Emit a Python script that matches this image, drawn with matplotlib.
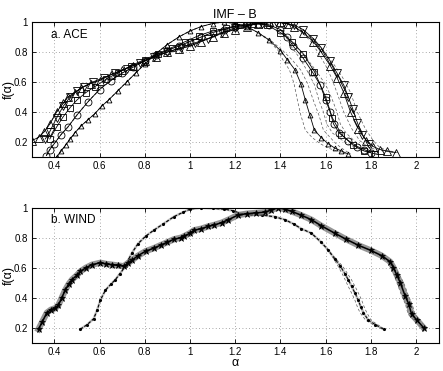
import numpy as np
import matplotlib
matplotlib.use("Agg")
import matplotlib.pyplot as plt

plt.rcParams['font.family'] = ['Liberation Sans', 'DejaVu Sans']

# ---------------- panel a: ACE ----------------
A_alpha = [0.30, 0.33, 0.356, 0.38, 0.41, 0.44, 0.46, 0.49, 0.52, 0.56, 0.60, 0.65, 0.70, 0.75, 0.80,
           0.85, 0.90, 0.95, 1.00, 1.05, 1.10, 1.15, 1.20, 1.25, 1.30, 1.35, 1.40, 1.43, 1.46, 1.50,
           1.545, 1.58, 1.62, 1.65, 1.68, 1.71, 1.745, 1.78, 1.81, 1.84, 1.87, 1.91]
A_f = [0.21, 0.23, 0.27, 0.32, 0.40, 0.46, 0.50, 0.53, 0.56, 0.59, 0.61, 0.65, 0.68, 0.71, 0.74,
       0.77, 0.80, 0.82, 0.84, 0.87, 0.90, 0.93, 0.95, 0.97, 0.99, 1.00, 1.00, 0.99, 0.97, 0.93,
       0.87, 0.80, 0.71, 0.63, 0.53, 0.40, 0.29, 0.21, 0.17, 0.15, 0.14, 0.13]
A_err = [0, 0, 0, 0, 0, 0, 0, 0, 0, 0, 0, 0, 0, 0, 0,
         0, 0, 0, 0, 0, 0, 0, 0, 0, 0, 0, 0, 0, 0, 0.005,
         0.01, 0.015, 0.02, 0.025, 0.03, 0.03, 0.03, 0.03, 0.025, 0.02, 0.015, 0.01]

V_alpha = [0.36, 0.38, 0.41, 0.44, 0.47, 0.50, 0.53, 0.57, 0.62, 0.67, 0.72, 0.78, 0.84, 0.90, 0.96,
           1.02, 1.08, 1.14, 1.20, 1.26, 1.32, 1.38, 1.42, 1.46, 1.50, 1.545, 1.58, 1.62, 1.65, 1.68,
           1.70, 1.72, 1.74, 1.76, 1.79]
V_f = [0.22, 0.27, 0.36, 0.44, 0.50, 0.54, 0.57, 0.60, 0.63, 0.66, 0.69, 0.73, 0.77, 0.80, 0.83,
       0.86, 0.89, 0.93, 0.96, 0.98, 0.99, 1.00, 0.99, 0.98, 0.95, 0.89, 0.83, 0.74, 0.66, 0.58,
       0.50, 0.42, 0.33, 0.25, 0.19]

C_alpha = [0.365, 0.38, 0.40, 0.43, 0.46, 0.50, 0.55, 0.60, 0.65, 0.70, 0.75, 0.80, 0.85, 0.90, 0.95,
           1.00, 1.05, 1.10, 1.15, 1.20, 1.25, 1.30, 1.35, 1.40, 1.43, 1.456, 1.50, 1.54, 1.576, 1.60,
           1.62, 1.635, 1.66, 1.70, 1.74, 1.77, 1.80]
C_f = [0.11, 0.15, 0.19, 0.25, 0.30, 0.38, 0.47, 0.55, 0.61, 0.66, 0.70, 0.74, 0.78, 0.81, 0.84,
       0.87, 0.90, 0.93, 0.95, 0.97, 0.98, 0.99, 0.98, 0.95, 0.90, 0.84, 0.76, 0.67, 0.58, 0.48,
       0.40, 0.32, 0.26, 0.21, 0.17, 0.15, 0.13]
C_err = [0, 0, 0, 0, 0, 0, 0, 0, 0, 0, 0, 0, 0, 0, 0,
         0, 0, 0, 0, 0, 0, 0, 0, 0, 0.005, 0.01, 0.015, 0.02, 0.025, 0.03,
         0.03, 0.03, 0.03, 0.025, 0.02, 0.015, 0.01]

S_alpha = [0.38, 0.41, 0.44, 0.47, 0.50, 0.54, 0.58, 0.63, 0.68, 0.74, 0.80, 0.86, 0.92, 0.98, 1.04,
           1.10, 1.16, 1.22, 1.28, 1.34, 1.40, 1.45, 1.50, 1.55, 1.60, 1.63, 1.67, 1.72, 1.77, 1.82]
S_f = [0.22, 0.30, 0.37, 0.43, 0.48, 0.53, 0.57, 0.62, 0.66, 0.71, 0.75, 0.79, 0.83, 0.87, 0.91,
       0.94, 0.96, 0.98, 0.99, 0.98, 0.93, 0.87, 0.79, 0.67, 0.50, 0.36, 0.25, 0.18, 0.14, 0.12]

D_alpha = [0.41, 0.43, 0.45, 0.47, 0.49, 0.52, 0.55, 0.58, 0.61, 0.64, 0.68, 0.72, 0.76, 0.80, 0.85,
           0.90, 0.95, 1.00, 1.05, 1.10, 1.15, 1.20, 1.25, 1.30, 1.35, 1.40, 1.43, 1.465, 1.49, 1.51,
           1.53, 1.55, 1.58, 1.61, 1.64, 1.67, 1.70]
D_f = [0.10, 0.14, 0.18, 0.22, 0.26, 0.31, 0.35, 0.39, 0.44, 0.48, 0.54, 0.60, 0.66, 0.72, 0.79,
       0.85, 0.90, 0.94, 0.97, 0.99, 1.00, 0.99, 0.97, 0.93, 0.88, 0.81, 0.75, 0.68, 0.59, 0.48,
       0.38, 0.28, 0.23, 0.19, 0.16, 0.14, 0.12]
D_err = [0, 0, 0, 0, 0, 0, 0, 0, 0, 0, 0, 0, 0, 0, 0,
         0, 0, 0, 0, 0, 0, 0, 0, 0, 0.005, 0.01, 0.02, 0.025, 0.03, 0.035,
         0.04, 0.04, 0.04, 0.035, 0.03, 0.02, 0.01]

# ---------------- panel b: WIND ----------------
W1_alpha = [0.33, 0.347, 0.367, 0.385, 0.404, 0.418, 0.433, 0.448, 0.463, 0.478, 0.50, 0.515, 0.54,
            0.567, 0.604, 0.63, 0.656, 0.68, 0.707, 0.725, 0.744, 0.77, 0.804, 0.84, 0.87, 0.90,
            0.93, 0.96, 0.974, 1.0, 1.018, 1.05, 1.08, 1.107, 1.14, 1.17, 1.211, 1.25, 1.29, 1.33,
            1.36, 1.389, 1.42, 1.45, 1.492, 1.537, 1.58, 1.64, 1.69, 1.744, 1.80, 1.848, 1.885,
            1.90, 1.915, 1.93, 1.952, 1.967, 1.98, 2.004, 2.033]
W1_f = [0.19, 0.24, 0.30, 0.32, 0.33, 0.35, 0.40, 0.45, 0.49, 0.52, 0.55, 0.575, 0.60,
        0.62, 0.633, 0.625, 0.62, 0.615, 0.61, 0.63, 0.65, 0.68, 0.71, 0.73, 0.75, 0.77,
        0.79, 0.80, 0.81, 0.83, 0.85, 0.86, 0.875, 0.885, 0.90, 0.92, 0.95, 0.96, 0.965, 0.97,
        0.985, 1.0, 0.99, 0.975, 0.95, 0.92, 0.88, 0.83, 0.79, 0.75, 0.715, 0.68, 0.64,
        0.60, 0.55, 0.50, 0.41, 0.36, 0.29, 0.25, 0.20]
W1_err = [0] * 52 + [0.005, 0.01, 0.012, 0.015, 0.015, 0.015, 0.015, 0.012, 0.01]

W2_alpha = [0.515, 0.545, 0.574, 0.59, 0.604, 0.626, 0.65, 0.67, 0.69, 0.715, 0.73, 0.744, 0.77,
            0.804, 0.84, 0.88, 0.929, 0.97, 1.0, 1.048, 1.10, 1.152, 1.19, 1.226, 1.27, 1.32,
            1.374, 1.42, 1.46, 1.492, 1.537, 1.58, 1.61, 1.64, 1.665, 1.685, 1.70, 1.715, 1.73,
            1.744, 1.755, 1.767, 1.789, 1.82, 1.856]
W2_f = [0.19, 0.22, 0.26, 0.32, 0.385, 0.45, 0.49, 0.52, 0.56, 0.61, 0.66, 0.70, 0.76,
        0.81, 0.85, 0.89, 0.94, 0.97, 0.99, 1.0, 0.995, 0.99, 0.98, 0.96, 0.955, 0.95,
        0.94, 0.92, 0.89, 0.86, 0.83, 0.77, 0.72, 0.66, 0.61, 0.56, 0.52, 0.475, 0.43,
        0.385, 0.34, 0.30, 0.25, 0.22, 0.19]
W2_err = [0] * 33 + [0.005, 0.01, 0.012, 0.014, 0.015, 0.015, 0.015, 0.015, 0.015, 0.012, 0.01, 0.005]

x_ticks = [0.4, 0.6, 0.8, 1.0, 1.2, 1.4, 1.6, 1.8, 2.0]
x_labels = ['0.4', '0.6', '0.8', '1', '1.2', '1.4', '1.6', '1.8', '2']
y_ticks = [0.2, 0.4, 0.6, 0.8, 1.0]
y_labels = ['0.2', '0.4', '0.6', '0.8', '1']

fig = plt.figure(figsize=(4.43, 3.71), dpi=100)
ax1 = fig.add_axes([0.0716, 0.5768, 0.9187, 0.3639])
ax2 = fig.add_axes([0.0716, 0.0763, 0.9187, 0.3639])


def style(ax):
    ax.set_xlim(0.3, 2.1)
    ax.set_ylim(0.1, 1.0)
    ax.set_xticks(x_ticks)
    ax.set_xticklabels(x_labels)
    ax.set_yticks(y_ticks)
    ax.set_yticklabels(y_labels)
    ax.tick_params(direction='in', length=3, width=0.6, labelsize=7, top=True, right=True, pad=3)
    ax.grid(True, linestyle=(0, (1, 3)), color='0.55', linewidth=0.6)
    ax.set_axisbelow(True)
    for s in ax.spines.values():
        s.set_linewidth(0.8)
    ax.set_ylabel('f(α)', fontsize=9)
    ax.yaxis.set_label_coords(-0.041, 0.5)


def errlines(ax, a, f, e, color='0.35'):
    a = np.asarray(a); f = np.asarray(f); e = np.asarray(e)
    ax.plot(a - e, f, linestyle=(0, (4, 3)), color=color, lw=0.5)
    ax.plot(a + e, f, linestyle=(0, (4, 3)), color=color, lw=0.5)


style(ax1)
errlines(ax1, A_alpha, A_f, A_err)
errlines(ax1, C_alpha, C_f, C_err)
errlines(ax1, D_alpha, D_f, D_err)
ax1.plot(A_alpha, A_f, color='k', lw=0.6, marker='^', ms=6, mfc='none', mec='k', mew=0.6)
ax1.plot(V_alpha, V_f, color='k', lw=0.6, marker='v', ms=6, mfc='none', mec='k', mew=0.6)
ax1.plot(C_alpha, C_f, color='k', lw=0.6, marker='o', ms=5, mfc='none', mec='k', mew=0.6)
ax1.plot(S_alpha, S_f, color='k', lw=0.6, marker='s', ms=4, mfc='none', mec='k', mew=0.6)
ax1.plot(D_alpha, D_f, color='k', lw=0.6, marker='^', ms=3.5, mfc='none', mec='k', mew=0.6)
ax1.text(0.385, 0.915, 'a. ACE', fontsize=8.5, va='center', ha='left')
ax1.set_title('IMF – B', fontsize=9, pad=3)

style(ax2)
errlines(ax2, W1_alpha, W1_f, W1_err)
errlines(ax2, W2_alpha, W2_f, W2_err)
ax2.plot(W2_alpha, W2_f, color='0.5', lw=1.8, alpha=0.5)
ax2.plot(W2_alpha, W2_f, color='k', lw=0.7, linestyle=(0, (3, 2)), marker='.', ms=2.5)
ax2.plot(W1_alpha, W1_f, color='0.45', lw=4.5, alpha=0.75)
ax2.plot(W1_alpha, W1_f, color='k', lw=1.1, marker='*', ms=5, mec='k', mew=0.5)
ax2.text(0.385, 0.915, 'b. WIND', fontsize=8.5, va='center', ha='left')
ax2.set_xlabel('α', fontsize=9, labelpad=0)

fig.savefig('out.png', dpi=100)
